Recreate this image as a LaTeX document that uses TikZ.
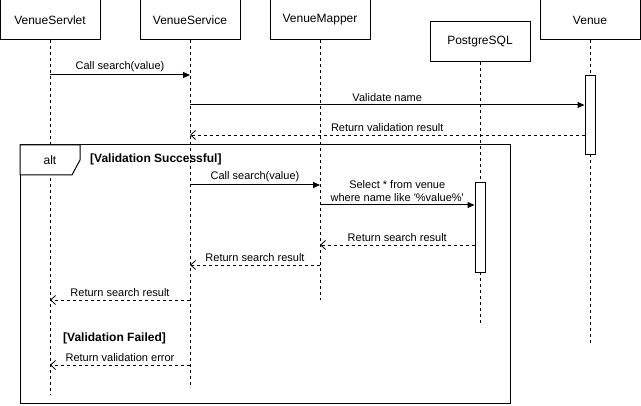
\documentclass[tikz,border=0pt]{standalone}
\usepackage{fontspec}
\setmainfont{Liberation Sans}
\usetikzlibrary{arrows.meta,positioning}

\tikzset{
    actor/.style={draw, line width=1pt, minimum width=100pt, minimum height=40pt,
        inner sep=0pt, font=\fontsize{12}{14}\selectfont},
    lifeline/.style={line width=0.8pt, dash pattern=on 3pt off 3pt},
    activation/.style={draw, line width=1pt, fill=white, minimum width=10pt, inner sep=0pt},
    call/.style={line width=1pt, -{Triangle[length=7pt,width=6pt]}},
    reply/.style={line width=0.8pt, dash pattern=on 3pt off 3pt,
        -{Straight Barb[length=5pt,width=9pt,line width=0.8pt]}},
    msg/.style={font=\fontsize{11}{13}\selectfont, inner sep=1pt, above=2pt, align=center},
    guard/.style={font=\bfseries\fontsize{12}{14}\selectfont, inner sep=0pt}
}

\begin{document}
\begin{tikzpicture}[x=1pt, y=-1pt]
\useasboundingbox (0,0) rectangle (641,406);

% participants
\node[actor] (servlet) at (50,20) {VenueServlet};
\node[actor] (service) at (190,20) {VenueService};
\node[actor] (mapper) at (320,20) {VenueMapper};
\node[actor] (postgres) at (480,42) {PostgreSQL};
\node[actor] (venue) at (590,20) {Venue};

% lifelines
\coordinate (servletend) at (50,395);
\coordinate (serviceend) at (190,385);
\coordinate (mapperend) at (320,300);
\coordinate (postgresend) at (480,323);
\coordinate (venueend) at (590,343);
\draw[lifeline] (servlet) -- (servletend);
\draw[lifeline] (service) -- (serviceend);
\draw[lifeline] (mapper) -- (mapperend);
\draw[lifeline] (postgres) -- (postgresend);
\draw[lifeline] (venue) -- (venueend);

% activations
\node[activation, minimum height=79pt] (venueact) at (590,115.5) {};
\node[activation, minimum height=90pt] (postgresact) at (480,228) {};

% message rows
\coordinate (m1) at (0,75);
\coordinate (m2) at (0,105);
\coordinate (m3) at (0,135);
\coordinate (m4) at (0,185);
\coordinate (m5) at (0,205);
\coordinate (m6) at (0,245);
\coordinate (m7) at (0,265);
\coordinate (m8) at (0,300);
\coordinate (m9) at (0,365);

\draw[call] (servlet |- m1) -- node[msg] {Call search(value)} (service |- m1);
\draw[call] (service |- m2) -- node[msg] {Validate name} (venueact.west |- m2);
\draw[reply] (venueact.west |- m3) -- node[msg] {Return validation result} (service |- m3);

% alt frame
\draw[line width=1pt] (20,145) rectangle (510,404);
\filldraw[fill=white, line width=1pt] (20,145) -- (80,145) -- (80,160) -- (72,175) -- (20,175) -- cycle;
\node[font=\fontsize{12}{14}\selectfont] (alt) at (50,160) {alt};
\node[guard, anchor=west] (success) at (90,159) {[Validation Successful]};

\draw[call] (service |- m4) -- node[msg] {Call search(value)} (mapper |- m4);
\draw[call] (mapper |- m5) -- node[msg] {Select * from venue\\where name like \textquotesingle\%value\%\textquotesingle} (postgresact.west |- m5);
\draw[reply] (postgresact.west |- m6) -- node[msg] {Return search result} (mapper |- m6);
\draw[reply] (mapper |- m7) -- node[msg] {Return search result} (service |- m7);
\draw[reply] (service |- m8) -- node[msg] {Return search result} (servlet |- m8);

\node[guard, anchor=west] (failed) at (63,338) {[Validation Failed]};
\draw[reply] (service |- m9) -- node[msg] {Return validation error} (servlet |- m9);
\end{tikzpicture}
\end{document}
